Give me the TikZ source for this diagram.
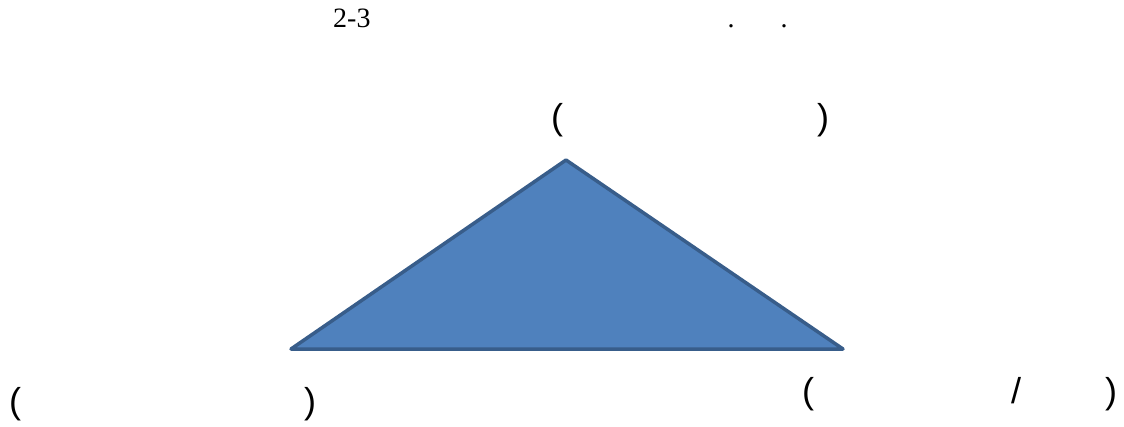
\documentclass[tikz,border=0pt]{standalone}
\usepackage{fontspec}
\setmainfont{Liberation Serif}
\newfontfamily\parfont{Liberation Sans}
\definecolor{trifill}{RGB}{79,129,189}
\definecolor{triline}{RGB}{56,93,138}
\tikzset{
  paren/.style={inner sep=0pt, anchor=base, font=\parfont\fontsize{36}{40}\selectfont},
  serif/.style={inner sep=0pt, anchor=base, font=\fontsize{28}{32}\selectfont},
  tri/.style={fill=trifill, draw=triline, line width=3.5pt, line join=round}
}
\begin{document}
\begin{tikzpicture}[x=1pt,y=-1pt]
\useasboundingbox (0,0) rectangle (1124,426);
% heading
\node[serif, anchor=base west] (num) at (333,27) {2-3};
\node[serif] (dotA) at (731,27) {.};
\node[serif] (dotB) at (784,27) {.};
% top label
\node[paren] (topL) at (557,129) {(};
\node[paren] (topR) at (823,129) {)};
% triangle
\coordinate (apex) at (566,160);
\coordinate (bl) at (291,349);
\coordinate (br) at (843,349);
\draw[tri] (apex) -- (br) -- (bl) -- cycle;
% bottom left label
\node[paren] (blL) at (15,413) {(};
\node[paren] (blR) at (310,413) {)};
% bottom right label
\node[paren] (brL) at (808,403) {(};
\node[paren] (brS) at (1016,403) {/};
\node[paren] (brR) at (1111,403) {)};
\end{tikzpicture}
\end{document}
